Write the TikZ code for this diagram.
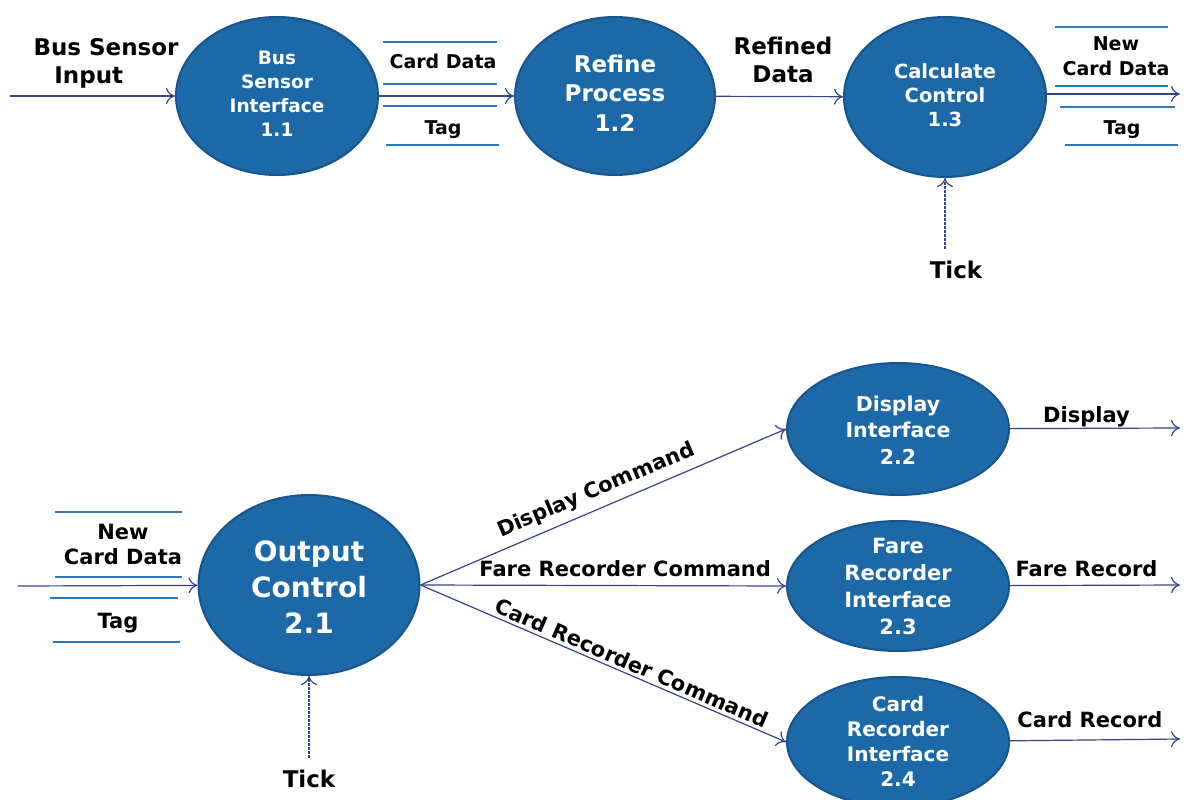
\documentclass[tikz,border=0pt]{standalone}
\usepackage{fontspec}
\setmainfont{DejaVu Sans}
\usetikzlibrary{shapes.geometric,arrows.meta}

\definecolor{procblue}{HTML}{1D69A8}
\definecolor{procedge}{HTML}{17558C}
\definecolor{flowcol}{HTML}{34468A}
\definecolor{storecol}{HTML}{2F78BC}

\tikzset{
    >={To[length=9pt,width=16pt]},
    proc/.style={ellipse, draw=procedge, line width=2pt, fill=procblue, inner sep=0pt},
    ptext/.style={text=white, align=center, inner sep=0pt},
    flow/.style={->, draw=flowcol, line width=1.2pt},
    tickflow/.style={flow, dash pattern=on 2.5pt off 1.5pt},
    store/.style={draw=storecol, line width=1.1pt},
    lbl/.style={font=\bfseries\fontsize{19}{25}\selectfont, align=center, inner sep=0pt},
    lblb/.style={font=\bfseries\fontsize{21}{25}\selectfont, align=center, inner sep=0pt},
    biglbl/.style={font=\bfseries\fontsize{23}{28}\selectfont, align=center, inner sep=0pt}
}

\begin{document}
\begin{tikzpicture}[x=1pt,y=-1pt]
    \useasboundingbox (0,0) rectangle (1186,800);

    % level 1 processes
    \node[proc, minimum width=202pt, minimum height=158pt] (P11) at (277,96) {};
    \node[ptext, font=\bfseries\fontsize{18.5}{24}\selectfont] (T11) at (277,94) {Bus\\Sensor\\Interface\\1.1};
    \node[proc, minimum width=200pt, minimum height=158pt] (P12) at (615,96) {};
    \node[ptext, font=\bfseries\fontsize{23}{29.5}\selectfont] (T12) at (615,93) {Refine\\Process\\1.2};
    \node[proc, minimum width=202pt, minimum height=160pt] (P13) at (945,97) {};
    \node[ptext, font=\bfseries\fontsize{19.5}{24}\selectfont] (T13) at (945,95) {Calculate\\Control\\1.3};

    \coordinate (in11) at (10,96);
    \coordinate (out13) at (1180,94);
    \node[biglbl] (bsin) at (106,63) {Bus Sensor\\Input\hspace*{1.5em}};
    \node[lbl] (cd1) at (443,61) {Card Data};
    \node[lbl] (tag1) at (443,130) {Tag};
    \node[biglbl] (rdata) at (783,60) {Refined\\Data};
    \node[lbl] (ncd1) at (1116,56) {New\\Card Data};
    \node[lbl] (tag2) at (1122,130) {Tag};
    \node[biglbl] (tick1) at (956,270) {Tick};

    \draw[flow] (in11) -- (P11);
    \draw[flow] (P11) -- (P12);
    \draw[flow] (P12) -- (P13);
    \draw[flow] ([yshift=3pt]P13.east) -- (out13);
    \draw[tickflow] ([yshift=12pt]tick1.north -| P13) -- (P13);

    % data stores
    \foreach \y/\a/\b in {42/383/497, 84/383/497, 106/383/497, 145/386/499,
                          27/1055/1168, 86/1055/1168, 107/1060/1175, 145/1065/1178,
                          512/55/182, 577/55/182, 598/50/178, 642/53/180}
        \draw[store] (\a,\y) -- (\b,\y);

    % level 2 processes
    \node[proc, minimum width=221pt, minimum height=180pt] (P21) at (309,585) {};
    \node[ptext, font=\bfseries\fontsize{28}{36}\selectfont] (T21) at (309,587) {Output\\Control\\2.1};
    \node[proc, minimum width=222pt, minimum height=132pt] (P22) at (898,429) {};
    \node[ptext, font=\bfseries\fontsize{20.5}{26.5}\selectfont] (T22) at (898,430) {Display\\Interface\\2.2};
    \node[proc, minimum width=222pt, minimum height=130pt] (P23) at (898,586) {};
    \node[ptext, font=\bfseries\fontsize{21}{27}\selectfont] (T23) at (898,586) {Fare\\Recorder\\Interface\\2.3};
    \node[proc, minimum width=222pt, minimum height=130pt] (P24) at (898,742) {};
    \node[ptext, font=\bfseries\fontsize{20}{25}\selectfont] (T24) at (898,741) {Card\\Recorder\\Interface\\2.4};

    \coordinate (in21) at (18,586);
    \coordinate (out22) at (1180,428);
    \coordinate (out23) at (1180,585);
    \coordinate (out24) at (1180,739);
    \node[lblb] (ncd2) at (123,544) {New\\Card Data};
    \node[lblb] (tag3) at (118,623) {Tag};
    \node[biglbl] (tick2) at (309,779) {Tick};

    \draw[flow] (in21) -- (P21);
    \draw[tickflow] ([yshift=12pt]tick2.north -| P21) -- (P21);
    \draw[flow] (P21.east) -- node[lblb, sloped, above=7pt, pos=.5] {Display Command} (P22.west);
    \draw[flow] (P21.east) -- node[lblb, above=8pt, pos=.56] {Fare Recorder Command} (P23.west);
    \draw[flow] (P21.east) -- node[lblb, sloped, above=3pt, pos=.565] {Card Recorder Command} (P24.west);
    \draw[flow] (P22) -- node[lblb, above=1pt, pos=.45] {Display} (out22);
    \draw[flow] (P23) -- node[lblb, above=8pt, pos=.45] {Fare Record} (out23);
    \draw[flow] (P24) -- node[lblb, above=12pt, pos=.47] {Card Record} (out24);
\end{tikzpicture}
\end{document}
